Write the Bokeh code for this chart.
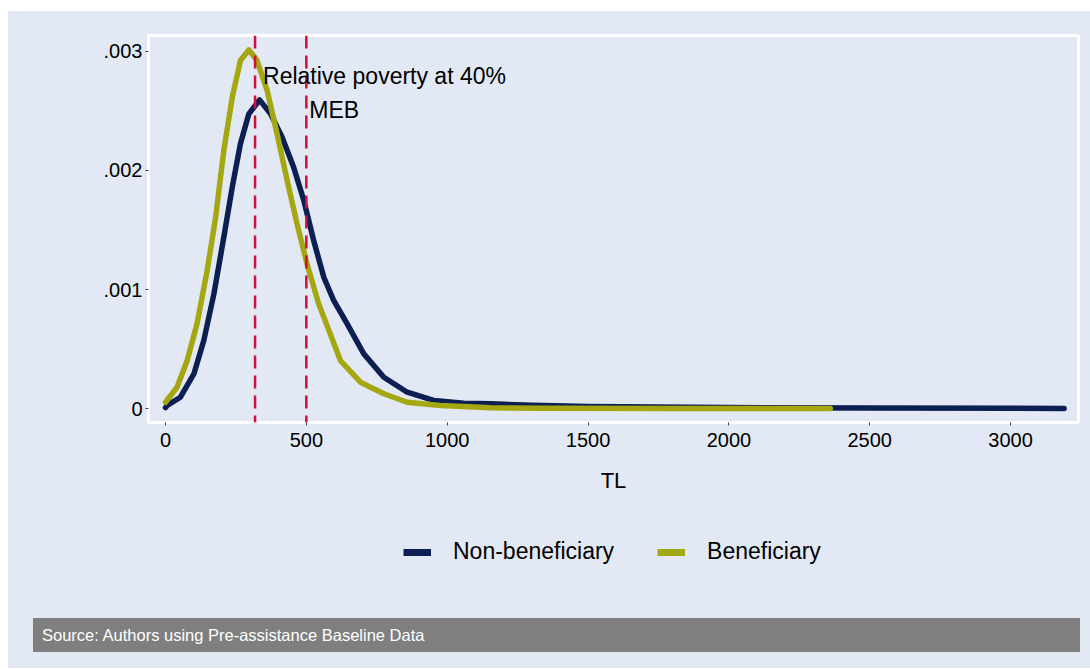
from bokeh.plotting import figure
from bokeh.models import (Range1d, FixedTicker, CustomJSTickFormatter, Span, Label,
                          Legend, LegendItem, Div)
from bokeh.layouts import column
from bokeh.embed import file_html
from bokeh.resources import INLINE

# ---------------- data ----------------
nonben_tl = [0, 6, 53, 101, 136, 172, 207, 237, 266, 296, 334, 373, 414, 455, 491, 526,
             562, 597, 645, 704, 775, 858, 952, 1059, 1154, 1300, 1500, 2000, 2500, 3190]
nonben_d = [0.00001, 0.000028, 0.000097, 0.000294, 0.000573, 0.000965, 0.00144, 0.00186,
            0.002223, 0.002475, 0.002592, 0.002475, 0.002279, 0.002027, 0.001748, 0.001412,
            0.001104, 0.000909, 0.000713, 0.000461, 0.000265, 0.000139, 0.00007, 0.000047,
            0.000042, 0.00003, 0.00002, 0.00001, 0.000006, 0.000003]

ben_tl = [0, 41, 77, 112, 148, 178, 207, 237, 266, 296, 325, 361, 396, 432, 467, 503,
          544, 562, 621, 692, 775, 858, 976, 1154, 1331, 1800, 2360]
ben_d = [0.000055, 0.000181, 0.000405, 0.000713, 0.00116, 0.001607, 0.002167, 0.002614,
         0.002922, 0.003012, 0.002922, 0.00267, 0.002307, 0.001915, 0.001552, 0.00121,
         0.00088, 0.000769, 0.000405, 0.000223, 0.000126, 0.000055, 0.000028, 0.000008,
         0.000005, 0.000003, 0.000002]

series_names = ["Non-beneficiary", "Beneficiary"]
poverty_line = 318
meb_line = 500
x_ticks = [0, 500, 1000, 1500, 2000, 2500, 3000]
y_ticks = [0, 0.001, 0.002, 0.003]
source_text = "Source: Authors using Pre-assistance Baseline Data"

# ---------------- style ----------------
BG = "#e2e9f5"
NAVY = "#0b1f52"
OLIVE = "#a5a711"
RED = "#d0103a"
FONT = "Liberation Sans"
LW = 5.5

p = figure(width=1082, height=489, output_backend="svg", toolbar_location=None,
           x_range=Range1d(-60.3, 3241), y_range=Range1d(-0.000115, 0.003132),
           min_border_left=140, min_border_right=12, min_border_top=24, min_border_bottom=78)
p.background_fill_color = BG
p.border_fill_color = BG
p.outline_line_color = "white"
p.outline_line_width = 3
p.grid.visible = False

p.line(nonben_tl, nonben_d, line_color=NAVY, line_width=LW, line_join="round", line_cap="round")
p.line(ben_tl, ben_d, line_color=OLIVE, line_width=LW, line_join="round", line_cap="round")

for loc in (poverty_line, meb_line):
    p.add_layout(Span(location=loc, dimension="height", line_color=RED, line_width=2.5,
                      line_dash="13 7"))

p.add_layout(Label(x=poverty_line, y=0.002796, x_offset=8, text="Relative poverty at 40%",
                   text_font=FONT, text_font_size="23px", text_color="black",
                   text_baseline="alphabetic"))
p.add_layout(Label(x=meb_line, y=0.002508, x_offset=3, text="MEB",
                   text_font=FONT, text_font_size="23px", text_color="black",
                   text_baseline="alphabetic"))

# axes
p.xaxis.ticker = FixedTicker(ticks=x_ticks)
p.yaxis.ticker = FixedTicker(ticks=y_ticks)
p.yaxis.formatter = CustomJSTickFormatter(
    code="return tick == 0 ? '0' : tick.toFixed(3).replace(/^0/, '');")
for ax in (p.xaxis[0], p.yaxis[0]):
    ax.axis_line_color = None
    ax.major_tick_line_color = "#444444"
    ax.major_tick_out = 3
    ax.major_tick_in = 0
    ax.minor_tick_line_color = None
    ax.major_label_text_font = FONT
    ax.major_label_text_font_size = "20px"
    ax.major_label_text_color = "black"
p.yaxis.major_label_standoff = 3
p.xaxis.major_label_standoff = 7
p.xaxis.axis_label = "TL"
p.xaxis.axis_label_text_font = FONT
p.xaxis.axis_label_text_font_size = "22px"
p.xaxis.axis_label_text_font_style = "normal"
p.xaxis.axis_label_text_color = "black"
p.xaxis.axis_label_standoff = 18

# legend row: a strip below the plot carrying the legend of the two series
# (the series are drawn there too, but fall outside the strip's y range, so only the key shows)
leg = figure(width=1082, height=112, output_backend="svg", toolbar_location=None,
             x_range=Range1d(-60.3, 3241), y_range=Range1d(1, 2),
             x_axis_location=None, y_axis_location=None,
             min_border_left=0, min_border_right=0, min_border_top=0, min_border_bottom=0)
leg.grid.visible = False
leg.background_fill_color = BG
leg.border_fill_color = BG
leg.outline_line_color = None
l_non = leg.line(nonben_tl, nonben_d, line_color=NAVY, line_width=7)
l_ben = leg.line(ben_tl, ben_d, line_color=OLIVE, line_width=7)
legend = Legend(items=[LegendItem(label=series_names[0], renderers=[l_non]),
                       LegendItem(label=series_names[1], renderers=[l_ben])],
                location=(255, 47), orientation="horizontal",
                background_fill_alpha=0, border_line_color=None,
                padding=0, margin=0, spacing=43, glyph_width=28, glyph_height=26,
                label_height=26, label_standoff=22,
                label_text_font=FONT, label_text_font_size="23px", label_text_color="black")
leg.add_layout(legend, "center")

src = Div(text=('<div style="box-sizing:border-box; width:1047px; padding-left:9px; '
                'line-height:34px; height:34px; '
                'font-family: \'Liberation Sans\'; font-size:16.5px; color:white; '
                'background-color:#7f7f7f; white-space:nowrap;">' + source_text + '</div>'),
          width=1047, height=34, margin=(6, 0, 16, 25))

layout = column(p, leg, src, styles={"background-color": BG}, margin=(11, 0, 0, 8), spacing=0)

open("out.html", "w").write(file_html(layout, INLINE))
